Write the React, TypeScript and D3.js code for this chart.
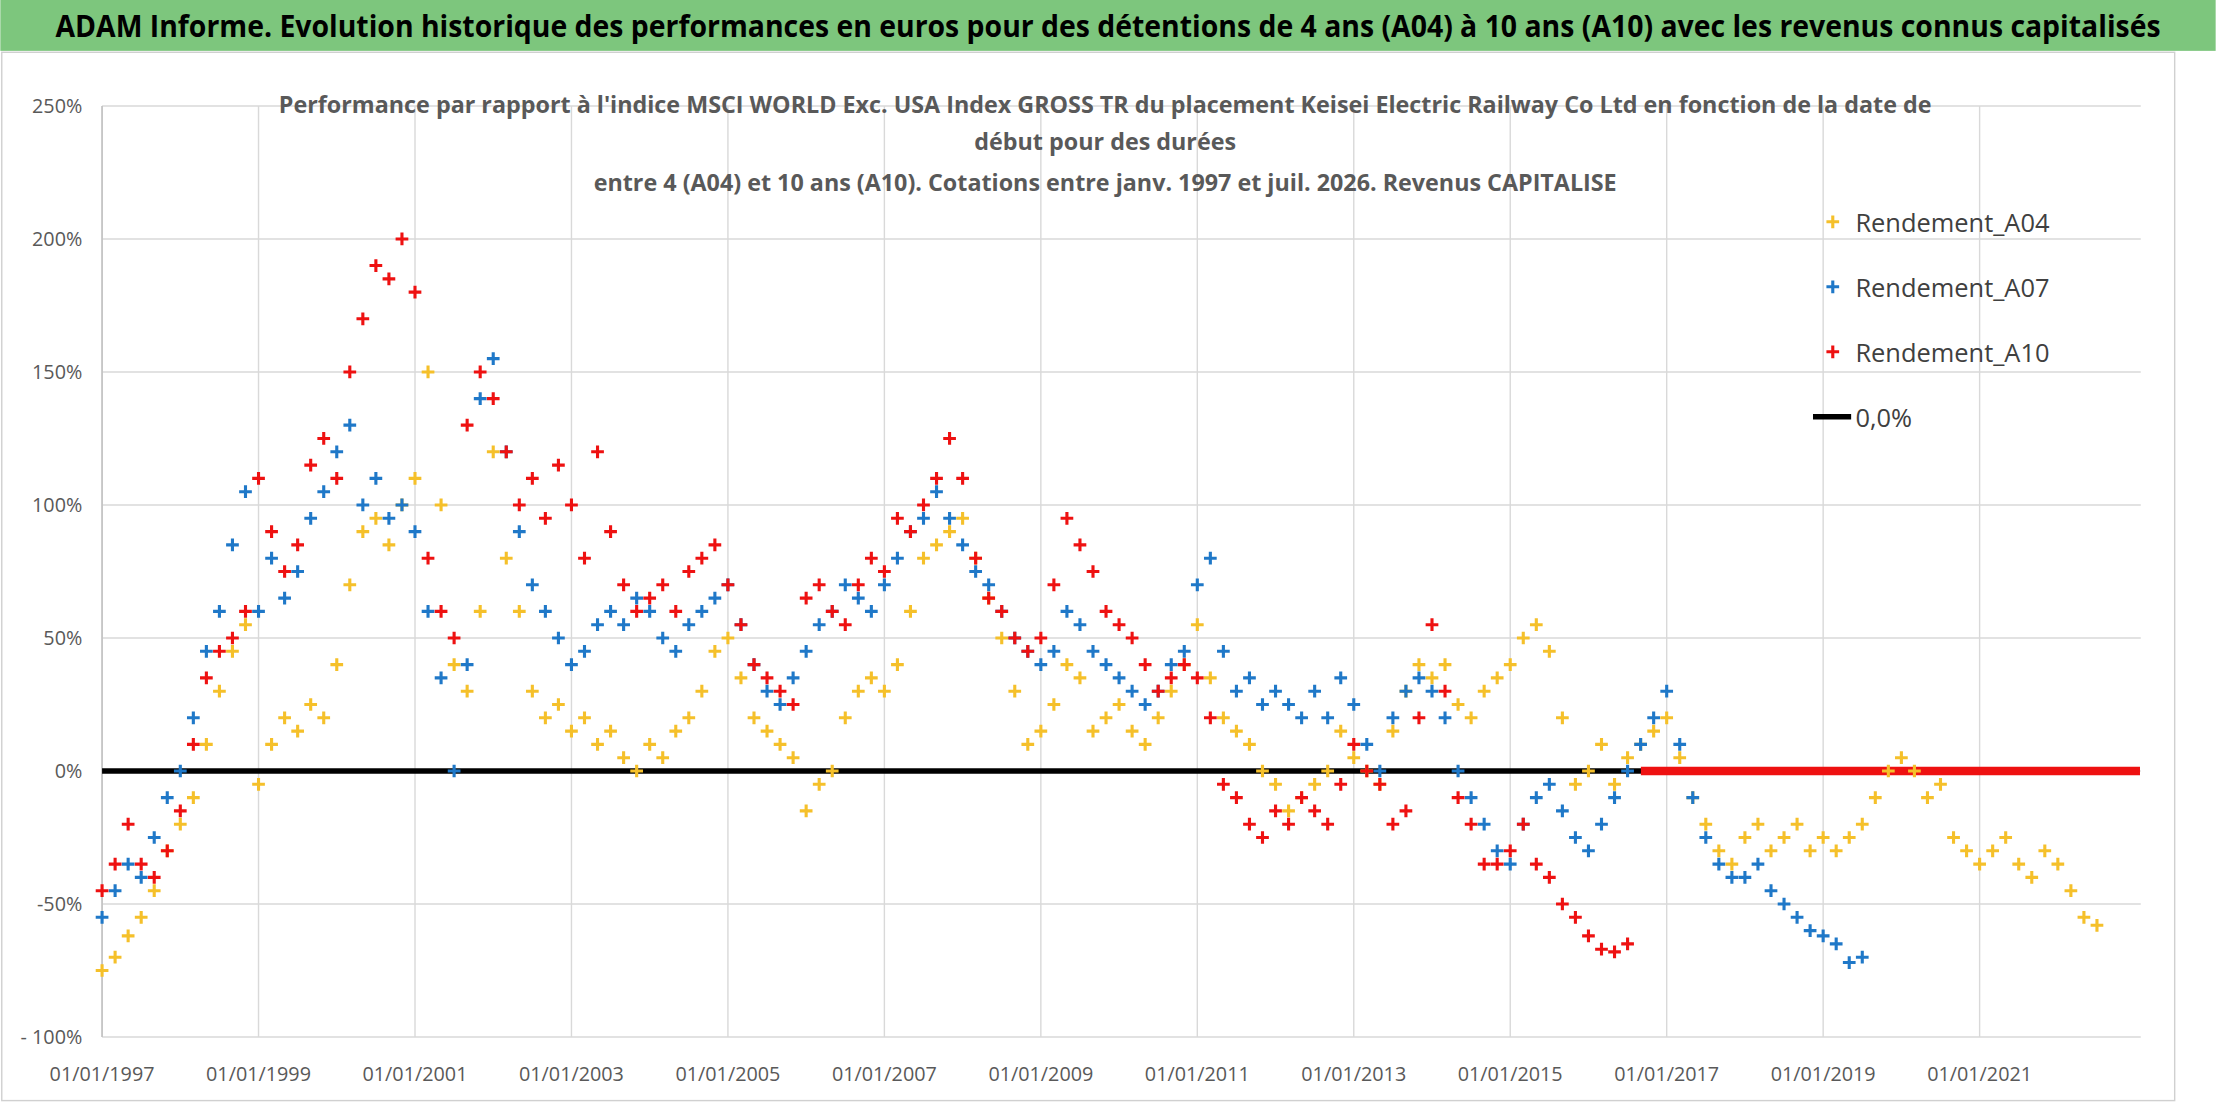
import React from "react";
import * as d3 from "d3";

const TITLE = "ADAM Informe. Evolution historique des performances en euros pour des détentions de 4 ans (A04) à 10 ans (A10) avec les revenus connus capitalisés";
const SUBTITLE = [
  "Performance par rapport à l'indice MSCI WORLD Exc. USA Index GROSS TR  du placement Keisei Electric Railway Co Ltd en fonction de la date de",
  "début pour des durées",
  "entre 4 (A04) et 10 ans (A10). Cotations entre janv. 1997 et juil. 2026. Revenus CAPITALISE",
];
const Y_TICKS = [-100, -50, 0, 50, 100, 150, 200, 250];
const X_TICK_YEARS = [1997, 1999, 2001, 2003, 2005, 2007, 2009, 2011, 2013, 2015, 2017, 2019, 2021];
const START_YEAR = 1997;

// bimonthly values (%) starting Jan 1997
const A04 = [
  -75,-70,-62,-55,-45,-30, -20,-10,10,30,45,55, -5,10,20,15,25,20, 40,70,90,95,85,100,
  110,150,100,40,30,60, 120,80,60,30,20,25, 15,20,10,15,5,0, 10,5,15,20,30,45,
  50,35,20,15,10,5, -15,-5,0,20,30,35, 30,40,60,80,85,90, 95,80,65,50,30,10,
  15,25,40,35,15,20, 25,15,10,20,30,40, 55,35,20,15,10,0, -5,-15,-10,-5,0,15,
  5,0,-5,15,30,40, 35,40,25,20,30,35, 40,50,55,45,20,-5, 0,10,-5,5,10,15,
  20,5,-10,-20,-30,-35, -25,-20,-30,-25,-20,-30, -25,-30,-25,-20,-10,0, 5,0,-10,-5,-25,-30,
  -35,-30,-25,-35,-40,-30, -35,-45,-55,-58,
];
const A07 = [
  -55,-45,-35,-40,-25,-10, 0,20,45,60,85,105, 60,80,65,75,95,105, 120,130,100,110,95,100,
  90,60,35,0,40,140, 155,120,90,70,60,50, 40,45,55,60,55,65, 60,50,45,55,60,65,
  70,55,40,30,25,35, 45,55,60,70,65,60, 70,80,90,95,105,95, 85,75,70,60,50,45,
  40,45,60,55,45,40, 35,30,25,30,40,45, 70,80,45,30,35,25, 30,25,20,30,20,35,
  25,10,0,20,30,35, 30,20,0,-10,-20,-30, -35,-20,-10,-5,-15,-25, -30,-20,-10,0,10,20,
  30,10,-10,-25,-35,-40, -40,-35,-45,-50,-55,-60, -62,-65,-72,-70,
];
const A10 = [
  -45,-35,-20,-35,-40,-30, -15,10,35,45,50,60, 110,90,75,85,115,125, 110,150,170,190,185,200,
  180,80,60,50,130,150, 140,120,100,110,95,115, 100,80,120,90,70,60, 65,70,60,75,80,85,
  70,55,40,35,30,25, 65,70,60,55,70,80, 75,95,90,100,110,125, 110,80,65,60,50,45,
  50,70,95,85,75,60, 55,50,40,30,35,40, 35,20,-5,-10,-20,-25, -15,-20,-10,-15,-20,-5,
  10,0,-5,-20,-15,20, 55,30,-10,-20,-35,-35, -30,-20,-35,-40,-50,-55, -62,-67,-68,-65,
];
const A10_ZERO = [2016.67, 2023.05];
const BLACK_ZERO = [1997, 2016.7];

const SERIES = [
  { name: "Rendement_A04", data: A04, color: "#f5c02a" },
  { name: "Rendement_A07", data: A07, color: "#1f78c8" },
  { name: "Rendement_A10", data: A10, color: "#ee1111" },
];

const x = d3.scaleLinear().domain([1997, 2023.06]).range([72, 1515]);
const y = d3.scaleLinear().domain([-100, 250]).range([734, 75]);

function Plus({ cx, cy, color, s = 4.5 }: any) {
  return <path d={`M${cx - s},${cy}H${cx + s}M${cx},${cy - s}V${cy + s}`} stroke={color} strokeWidth={2.2} />;
}

export default function App() {
  return (
    <svg viewBox="0 0 1568 780" width={2216} height={1102}
      style={{ position: "fixed", left: 0, top: 0, background: "#fff" }}>
      <rect x={0} y={0} width={1568} height={36} fill="#7dc67d" />
      <text x={784} y={26} textAnchor="middle" fontFamily="'Open Sans', sans-serif" fontWeight="bold"
        fontSize={21} textLength={1490} lengthAdjust="spacingAndGlyphs">{TITLE}</text>
      <rect x={1} y={37} width={1538} height={742} fill="none" stroke="#d0d0d0" />
      {Y_TICKS.map(t => (
        <g key={t}>
          <line x1={72} x2={1515} y1={y(t)} y2={y(t)} stroke="#d9d9d9" />
          <text x={58} y={y(t) + 5} textAnchor="end" fontSize={14} fill="#595959" fontFamily="'Open Sans', sans-serif">
            {t === -100 ? "- 100%" : t + "%"}</text>
        </g>
      ))}
      {X_TICK_YEARS.map(yr => (
        <g key={yr}>
          <line x1={x(yr)} x2={x(yr)} y1={75} y2={734} stroke="#d9d9d9" />
          <text x={x(yr)} y={765} textAnchor="middle" fontSize={14} fill="#595959" fontFamily="'Open Sans', sans-serif">
            {`01/01/${yr}`}</text>
        </g>
      ))}
      <line x1={x(1997)} x2={x(1997)} y1={75} y2={734} stroke="#bfbfbf" />
      <line x1={x(BLACK_ZERO[0])} x2={x(BLACK_ZERO[1])} y1={y(0)} y2={y(0)} stroke="#000" strokeWidth={4} />
      <line x1={x(A10_ZERO[0])} x2={x(A10_ZERO[1])} y1={y(0)} y2={y(0)} stroke="#ee1111" strokeWidth={6} />
      {SERIES.map(s => (
        <g key={s.name}>
          {s.data.map((v, i) => (
            <Plus key={i} cx={x(START_YEAR + i / 6)} cy={y(v)} color={s.color} />
          ))}
        </g>
      ))}
      {SUBTITLE.map((l, i) => (
        <text key={i} x={782} y={[80, 106, 135][i]} textAnchor="middle" fontSize={16.5} fontWeight="bold"
          fill="#595959" fontFamily="'Open Sans', sans-serif">{l}</text>
      ))}
      {SERIES.map((s, i) => (
        <g key={s.name}>
          <Plus cx={1297} cy={157 + i * 46} color={s.color} />
          <text x={1313} y={164 + i * 46} fontSize={18} fill="#404040" fontFamily="'Open Sans', sans-serif">{s.name}</text>
        </g>
      ))}
      <line x1={1283} x2={1310} y1={295} y2={295} stroke="#000" strokeWidth={4} />
      <text x={1313} y={302} fontSize={18} fill="#404040" fontFamily="'Open Sans', sans-serif">0,0%</text>
    </svg>
  );
}
